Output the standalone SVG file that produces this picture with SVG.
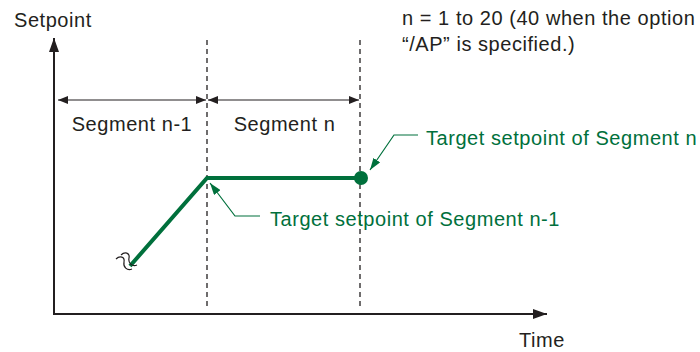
<svg xmlns="http://www.w3.org/2000/svg" width="700" height="352" viewBox="0 0 700 352">
<defs>
<style>
.t{font-family:"Liberation Sans",Arial,sans-serif;font-size:20px;letter-spacing:0.55px;fill:#231f20}
.g{font-family:"Liberation Sans",Arial,sans-serif;font-size:20px;letter-spacing:0.55px;fill:#00703c}
.ax{stroke:#231f20;stroke-width:2;fill:none}
.dim{stroke:#231f20;stroke-width:1.2;fill:none}
.dash{stroke:#231f20;stroke-width:1.3;stroke-dasharray:5,4;fill:none}
.gl{stroke:#00703c;stroke-width:4;fill:none}
.ld{stroke:#00703c;stroke-width:1.2;fill:none}
.wv{stroke:#231f20;stroke-width:1.2;fill:none}
</style>
<marker id="ah" viewBox="0 0 10 8" refX="10" refY="4" markerWidth="10" markerHeight="8" markerUnits="userSpaceOnUse" orient="auto-start-reverse"><path d="M0,0L10,4L0,8z" fill="#231f20"/></marker>
<marker id="big" viewBox="0 0 14 10" refX="14" refY="5" markerWidth="14" markerHeight="10" markerUnits="userSpaceOnUse" orient="auto"><path d="M0,0L14,5L0,10z" fill="#231f20"/></marker>
<marker id="gh" viewBox="0 0 12 8" refX="12" refY="4" markerWidth="12" markerHeight="8" markerUnits="userSpaceOnUse" orient="auto"><path d="M0,0L12,4L0,8z" fill="#00703c"/></marker>
</defs>
<g id="axes">
<line class="ax" x1="54" y1="315" x2="54" y2="38" marker-end="url(#big)"/>
<line class="ax" x1="53" y1="314" x2="547" y2="314" marker-end="url(#big)"/>
<text class="t" x="14" y="27">Setpoint</text>
<text class="t" x="519" y="347">Time</text>
</g>
<g id="note">
<text class="t" x="402" y="25">n = 1 to 20 (40 when the option</text>
<text class="t" x="402" y="51">“/AP” is specified.)</text>
</g>
<g id="connectors">
<line class="dash" x1="207" y1="40" x2="207" y2="310"/>
<line class="dash" x1="360" y1="40" x2="360" y2="310"/>
<line class="dim" x1="58" y1="100" x2="206" y2="100" marker-start="url(#ah)" marker-end="url(#ah)"/>
<line class="dim" x1="208" y1="100" x2="359" y2="100" marker-start="url(#ah)" marker-end="url(#ah)"/>
<polyline class="ld" points="418,135 394,135 370,170" marker-end="url(#gh)"/>
<polyline class="ld" points="260,216 235,216 210,183" marker-end="url(#gh)"/>
</g>
<g id="segment-n-1">
<text class="t" x="132" y="131" text-anchor="middle">Segment n-1</text>
</g>
<g id="segment-n">
<text class="t" x="284.5" y="131" text-anchor="middle">Segment n</text>
</g>
<g id="profile">
<polyline class="gl" points="130,266 207,178 360,178"/>
<circle cx="361" cy="178" r="7" fill="#00703c"/>
<path class="wv" d="M116,259 C120,255 125,257 124,262 C123,267 127,271 132,269"/>
<path class="wv" d="M121,255 C125,251 130,253 129,258 C128,263 132,267 137,265"/>
</g>
<g id="label-n">
<text class="g" x="426" y="145">Target setpoint of Segment n</text>
</g>
<g id="label-n-1">
<text class="g" x="270" y="226">Target setpoint of Segment n-1</text>
</g>
</svg>
